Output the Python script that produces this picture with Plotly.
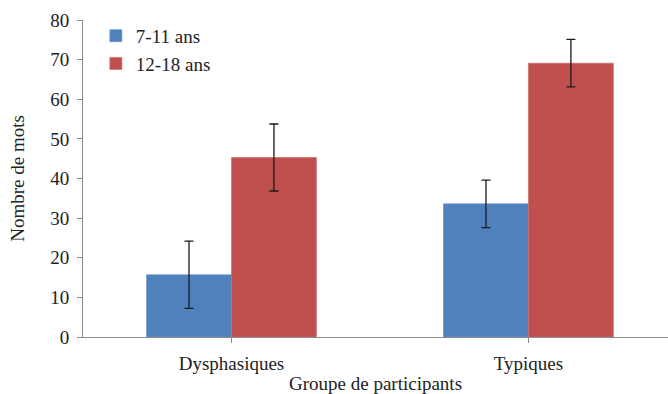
import plotly.graph_objects as go

categories = ["Dysphasiques", "Typiques"]
series_names = ["7-11 ans", "12-18 ans"]
values_7_11 = [15.7, 33.6]
errors_7_11 = [8.5, 6.0]
values_12_18 = [45.3, 69.1]
errors_12_18 = [8.45, 6.0]
y_ticks = [0, 10, 20, 30, 40, 50, 60, 70, 80]

font_family = "Liberation Serif, Times New Roman, serif"

fig = go.Figure()
fig.add_trace(go.Bar(
    x=categories, y=values_7_11, name=series_names[0],
    marker=dict(color="#4F81BD", line=dict(color="#6F96C8", width=0.7)),
    error_y=dict(type="data", array=errors_7_11, color="#1a1a1a", thickness=1.3, width=4.5),
))
fig.add_trace(go.Bar(
    x=categories, y=values_12_18, name=series_names[1],
    marker=dict(color="#C0504D", line=dict(color="#CC6E6B", width=0.7)),
    error_y=dict(type="data", array=errors_12_18, color="#1a1a1a", thickness=1.3, width=4.5),
))

fig.update_layout(
    width=668, height=394,
    margin=dict(l=83, r=0, t=20, b=57, autoexpand=False),
    barmode="group", bargap=0.428, bargroupgap=0,
    plot_bgcolor="white", paper_bgcolor="white",
    font=dict(family=font_family, size=19, color="#222222"),
    showlegend=True,
    legend=dict(x=0.022, y=1.01, xanchor="left", yanchor="top",
                bgcolor="rgba(0,0,0,0)", font=dict(size=19),
                itemwidth=30, tracegroupgap=0),
    xaxis=dict(
        range=[-0.5, 1.47], showline=True, linecolor="#8c8c8c", linewidth=1,
        ticks="outside", ticklen=5, tickcolor="#8c8c8c", automargin=False,
        ticklabelstandoff=4,
        title=dict(text="Groupe de participants", font=dict(size=19), standoff=22),
        tickfont=dict(size=19), showgrid=False,
    ),
    yaxis=dict(
        range=[0, 80], tickvals=y_ticks, showline=True, linecolor="#8c8c8c", linewidth=1,
        ticks="outside", ticklen=5, tickcolor="#8c8c8c", showgrid=False, zeroline=False,
        automargin=False, ticklabelstandoff=4,
        title=dict(text="Nombre de mots", font=dict(size=19), standoff=20),
        tickfont=dict(size=19),
    ),
)

fig.write_html("out.html", config={"displayModeBar": False},
               post_script="document.body.style.margin='0';")
